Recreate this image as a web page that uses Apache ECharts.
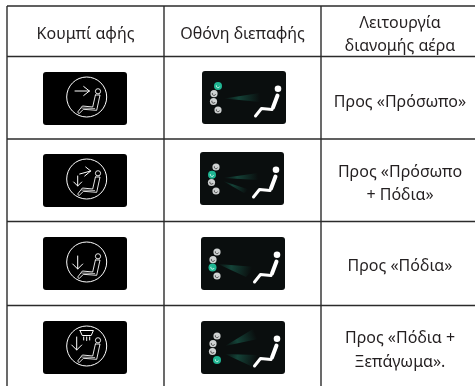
<!DOCTYPE html>
<html>
<head>
<meta charset="utf-8">
<style>
html,body{margin:0;padding:0;background:#fff}
#main{width:475px;height:386px}
</style>
<script src="https://cdn.jsdelivr.net/npm/echarts@6/dist/echarts.min.js"></script>
</head>
<body>
<div id="main"></div>
<script>
// table content
const headers = [['Κουμπί αφής'], ['Οθόνη διεπαφής'], ['Λειτουργία', 'διανομής αέρα']];
const airModes = [
    ['Προς «Πρόσωπο»'],
    ['Προς «Πρόσωπο', '+ Πόδια»'],
    ['Προς «Πόδια»'],
    ['Προς «Πόδια +', 'Ξεπάγωμα».']
];
const activeVent = [0, 1, 2, 3];
const buttonGlyphs = ['face', 'faceFeet', 'feet', 'feetDefrost'];
const fanNames = [['face'], ['faceUp', 'feetLow'], ['feetOnly'], ['defrostFan', 'feetFan']];

// layout, in page pixels
const colX = [7, 164, 321, 476];
const rowY = [6, 56.5, 139, 221.5, 305.5, 387];
const colCenter = [85.5, 242.5, 400];
const headerTextY = [[34], [34], [23, 46]];
const modeTextY = [[102], [172, 195], [266], [338, 362]];
const buttonBox = [[43, 72], [43, 154], [43, 237], [43, 321]];
const screenBox = [[202, 71], [200, 152], [201, 237], [201, 321]];
const boxW = 84, boxH = 53;

const ventDots = [[16, 15], [12, 22.7], [11.5, 30.5], [16, 39]];
const fanShapes = {
    face: [[22, 27.5], [58, 22], [58, 31]],
    faceUp: [[23, 26], [58, 21], [58, 28]],
    feetLow: [[23, 29], [50, 38], [44, 41]],
    feetOnly: [[17, 27], [55, 30], [45, 40]],
    defrostFan: [[24, 25], [52, 8], [57, 18]],
    feetFan: [[24, 33], [56, 34], [54, 47]]
};
const arrowPaths = {
    face: [[[-11.7, -6], [2.7, -6]], [[-3, -10.5], [2.7, -6], [-3, -1.5]]],
    faceFeet: [[[-7, -5], [4, -8]], [[-1, -12], [4, -8], [-2, -3]], [[-9, -3], [-9, 7]], [[-13, 3], [-9, 7], [-5, 3]]],
    feet: [[[-9, -6], [-9, 7]], [[-14, 2], [-9, 7], [-4, 2]]],
    feetDefrost: [[[-10, -9], [-10, 4]], [[-15, -1], [-10, 4], [-5, -1]],
        [[-6.7, -15.5], [6.7, -15.5], [4.5, -10.5], [-4.5, -10.5], [-6.7, -15.5]],
        [[-3, -9], [-3, -6]], [[0, -9], [0, -5.5]], [[3, -9], [3, -6]]]
};
const seatOutline = [[8.7, -2], [13.3, -2], [10, 13.3], [-3.3, 12.3], [-7.7, 16.7], [-9, 15], [-4.3, 9], [6, 10], [8.7, -2]];
const seatInner = [[-5, 11], [8, 11.5]];

const chart = echarts.init(document.getElementById('main'));
const font = '"Noto Sans", sans-serif';

function textEl(str, x, y) {
    return {
        type: 'text', x: x, y: y,
        style: {text: str, fill: '#231f20', font: '16px ' + font, align: 'center', verticalAlign: 'middle'}
    };
}

function lineEl(pts, color, width) {
    return {
        type: 'polyline',
        shape: {points: pts},
        style: {stroke: color, lineWidth: width, fill: null, lineCap: 'round', lineJoin: 'round'}
    };
}

function shift(pts, ox, oy) {
    return pts.map(p => [p[0] + ox, p[1] + oy]);
}

function drawGrid(params, api) {
    const kids = [];
    colX.slice(0, 3).forEach(x => {
        const a = api.coord([x, rowY[0]]), b = api.coord([x, 386]);
        kids.push({type: 'line', shape: {x1: a[0], y1: a[1], x2: b[0], y2: b[1]}, style: {stroke: '#2b2b2b', lineWidth: 1.4}});
    });
    rowY.slice(0, 5).forEach(y => {
        const a = api.coord([colX[0], y]), b = api.coord([475, y]);
        kids.push({type: 'line', shape: {x1: a[0], y1: a[1], x2: b[0], y2: b[1]}, style: {stroke: '#2b2b2b', lineWidth: 1.4}});
    });
    headers.forEach((lines, c) => {
        lines.forEach((s, i) => kids.push(textEl(s, colCenter[c], headerTextY[c][i])));
    });
    return {type: 'group', children: kids};
}

function drawRow(params, api) {
    const r = api.value(0);
    const kids = [];
    // touch button
    const bx = buttonBox[r][0], by = buttonBox[r][1];
    kids.push({type: 'rect', shape: {x: bx, y: by, width: boxW, height: boxH, r: 3}, style: {fill: '#000'}});
    const cx = bx + 43.7, cy = by + 25;
    kids.push({type: 'circle', shape: {cx: cx, cy: cy, r: 20}, style: {fill: null, stroke: '#fff', lineWidth: 1}});
    kids.push({type: 'circle', shape: {cx: cx + 11.3, cy: cy - 5.7, r: 2.6}, style: {fill: null, stroke: '#fff', lineWidth: 0.9}});
    kids.push(lineEl(shift(seatOutline, cx, cy), '#fff', 0.9));
    kids.push(lineEl(shift(seatInner, cx, cy), '#fff', 0.7));
    arrowPaths[buttonGlyphs[r]].forEach(p => kids.push(lineEl(shift(p, cx, cy), '#fff', 1)));

    // interface screen
    const sx = screenBox[r][0], sy = screenBox[r][1];
    kids.push({type: 'rect', shape: {x: sx, y: sy, width: boxW, height: boxH, r: 3}, style: {fill: '#0a0e0e'}});
    fanNames[r].forEach(name => {
        const pts = shift(fanShapes[name], sx, sy);
        const endX = (pts[1][0] + pts[2][0]) / 2, endY = (pts[1][1] + pts[2][1]) / 2;
        kids.push({
            type: 'polygon',
            shape: {points: pts},
            style: {
                fill: new echarts.graphic.LinearGradient(pts[0][0], pts[0][1], endX, endY, [
                    {offset: 0, color: 'rgba(30,120,98,0)'},
                    {offset: 0.4, color: 'rgba(30,120,98,0.5)'},
                    {offset: 1, color: 'rgba(30,120,98,0)'}
                ], true)
            }
        });
    });
    ventDots.forEach((d, i) => {
        const on = i === activeVent[r];
        const dx = sx + d[0], dy = sy + d[1];
        kids.push({type: 'circle', shape: {cx: dx, cy: dy, r: on ? 4 : 3.6}, style: {fill: on ? '#1fb592' : '#cfd2d2'}});
        kids.push({
            type: 'arc',
            shape: {cx: dx, cy: dy, r: 1.7, startAngle: 0.3, endAngle: 3.6},
            style: {fill: null, stroke: on ? '#e8fff8' : '#333', lineWidth: 0.8}
        });
    });
    kids.push({type: 'circle', shape: {cx: sx + 76, cy: sy + 17.7, r: 3.3}, style: {fill: '#fff'}});
    kids.push(lineEl(shift([[75.5, 24.5], [71, 36.5]], sx, sy), '#fff', 4));
    kids.push(lineEl(shift([[70, 38.5], [59.5, 37.5], [53.5, 45]], sx, sy), '#fff', 3));

    // air mode label
    airModes[r].forEach((s, i) => kids.push(textEl(s, colCenter[2], modeTextY[r][i])));
    return {type: 'group', children: kids};
}

chart.setOption({
    animation: false,
    grid: {left: 0, right: 0, top: 0, bottom: 0},
    xAxis: {type: 'value', min: 0, max: 475, show: false},
    yAxis: {type: 'value', min: 0, max: 386, inverse: true, show: false},
    series: [
        {type: 'custom', renderItem: drawGrid, data: [[0]], clip: false, silent: true},
        {type: 'custom', renderItem: drawRow, data: airModes.map((m, i) => [i]), clip: false, silent: true}
    ]
});
</script>
</body>
</html>
